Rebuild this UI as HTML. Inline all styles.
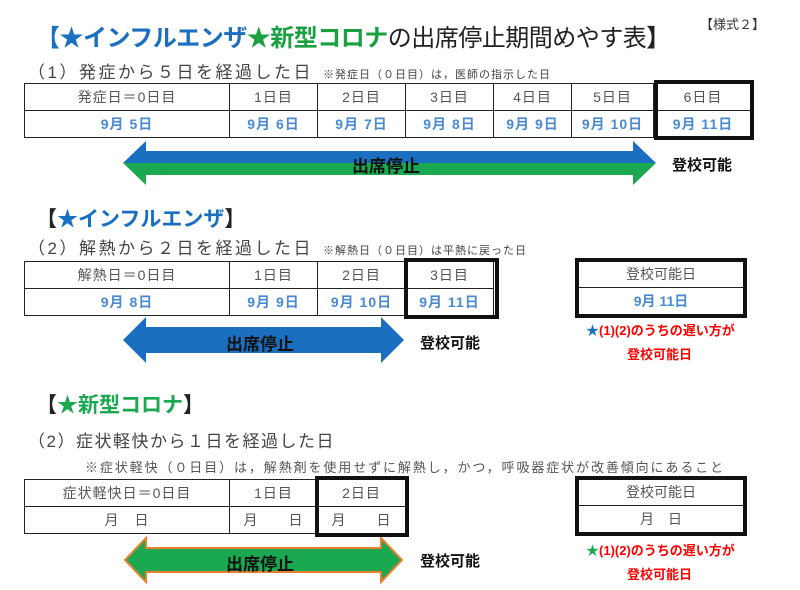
<!DOCTYPE html><html><head><meta charset="utf-8"><style>
body{margin:0;width:800px;height:590px;background:#fff;position:relative;overflow:hidden;font-family:"Liberation Sans","Noto Sans CJK JP",sans-serif;color:#333}
.a{position:absolute;white-space:nowrap}
table{position:absolute;border-collapse:collapse;table-layout:fixed}
td{border:1px solid #222;text-align:center;font-size:14px;color:#555;height:26px;padding:0;letter-spacing:1px}
td.b{color:#4a8ad0;font-weight:bold}
.box{position:absolute;border:4px solid #111;box-sizing:border-box}
.red{color:#f00;font-weight:bold;font-size:13px}
.sub{font-size:17px;color:#444;letter-spacing:2.5px}
.n{font-size:11px;letter-spacing:1px;margin-left:10px}
</style></head><body>
<div class="a" style="left:36px;top:18px;font-size:24px;font-weight:bold;color:#222;letter-spacing:-0.5px"><span style="color:#1a6fc0">【★インフルエンザ</span><span style="color:#1aa040">★新型コロナ</span><span style="font-weight:normal">の出席停止期間めやす表</span>】</div>
<div class="a" style="left:700px;top:14px;font-size:13px">【様式２】</div>
<div class="a sub" style="left:28px;top:58px">（1）発症から５日を経過した日<span class="n">※発症日（０日目）は，医師の指示した日</span></div>
<table style="left:24px;top:83px;width:729px"><colgroup><col style="width:205px"><col style="width:88px"><col style="width:88px"><col style="width:88px"><col style="width:78px"><col style="width:82px"><col></colgroup>
<tr><td>発症日＝0日目</td><td>1日目</td><td>2日目</td><td>3日目</td><td>4日目</td><td>5日目</td><td>6日目</td></tr>
<tr><td class="b">9月 5日</td><td class="b">9月 6日</td><td class="b">9月 7日</td><td class="b">9月 8日</td><td class="b">9月 9日</td><td class="b">9月 10日</td><td class="b">9月 11日</td></tr></table>
<div class="box" style="left:654px;top:80px;width:100px;height:60px"></div>
<svg class="a" style="left:0;top:0" width="800" height="590">
<defs><linearGradient id="g" x1="0" y1="0" x2="0" y2="1"><stop offset="0.5" stop-color="#1a6fc0"/><stop offset="0.5" stop-color="#1aa850"/></linearGradient></defs>
<polygon points="123,163 146,141 146,151 633,151 633,141 656,163 633,185 633,175 146,175 146,185" fill="url(#g)"/>
<polygon points="123,340 146,317 146,327 381,327 381,317 404,340 381,363 381,353 146,353 146,363" fill="#1a6fc0"/>
<polygon points="125,560 146,538 146,548 381,548 381,538 402,560 381,582 381,572 146,572 146,582" fill="#1aa850" stroke="#e88030" stroke-width="2"/>
</svg>
<div class="a" style="left:352px;top:152px;font-size:17px;font-weight:bold;color:#111">出席停止</div>
<div class="a" style="left:672px;top:154px;font-size:15px;font-weight:bold;color:#111">登校可能</div>
<div class="a" style="left:36px;top:203px;font-size:21px;font-weight:bold;color:#1a6fc0"><span style="color:#222">【</span>★インフルエンザ<span style="color:#222">】</span></div>
<div class="a sub" style="left:28px;top:234px">（2）解熱から２日を経過した日<span class="n">※解熱日（０日目）は平熱に戻った日</span></div>
<table style="left:24px;top:261px;width:470px"><colgroup><col style="width:205px"><col style="width:88px"><col style="width:88px"><col></colgroup>
<tr><td>解熱日＝0日目</td><td>1日目</td><td>2日目</td><td>3日目</td></tr>
<tr><td class="b">9月 8日</td><td class="b">9月 9日</td><td class="b">9月 10日</td><td class="b">9月 11日</td></tr></table>
<div class="box" style="left:404px;top:258px;width:95px;height:61px"></div>
<div class="box" style="left:575px;top:258px;width:172px;height:60px;display:flex;flex-direction:column"><div style="flex:1;border-bottom:1px solid #222;text-align:center;font-size:14px;color:#555;line-height:24px">登校可能日</div><div style="flex:1;text-align:center;font-size:14px;color:#4a8ad0;font-weight:bold;line-height:26px">9月 11日</div></div>
<div class="a" style="left:226px;top:330px;font-size:17px;font-weight:bold;color:#111">出席停止</div>
<div class="a" style="left:420px;top:332px;font-size:15px;font-weight:bold;color:#111">登校可能</div>
<div class="a red" style="left:586px;top:320px"><span style="color:#1a6fc0">★</span>(1)(2)のうちの遅い方が</div>
<div class="a red" style="left:627px;top:344px">登校可能日</div>
<div class="a" style="left:36px;top:389px;font-size:21px;font-weight:bold;color:#1aa850"><span style="color:#222">【</span>★新型コロナ<span style="color:#222">】</span></div>
<div class="a sub" style="left:28px;top:427px;letter-spacing:1.5px">（2）症状軽快から１日を経過した日</div>
<div class="a" style="left:85px;top:457px;font-size:13px;color:#555;letter-spacing:1.9px">※症状軽快（０日目）は，解熱剤を使用せずに解熱し，かつ，呼吸器症状が改善傾向にあること</div>
<table style="left:24px;top:479px;width:382px"><colgroup><col style="width:205px"><col style="width:88px"><col></colgroup>
<tr><td>症状軽快日＝0日目</td><td>1日目</td><td>2日目</td></tr>
<tr><td>月　日</td><td>月　　日</td><td>月　　日</td></tr></table>
<div class="box" style="left:315px;top:476px;width:94px;height:61px"></div>
<div class="box" style="left:575px;top:476px;width:172px;height:60px;display:flex;flex-direction:column"><div style="flex:1;border-bottom:1px solid #222;text-align:center;font-size:14px;color:#555;line-height:24px">登校可能日</div><div style="flex:1;text-align:center;font-size:14px;color:#555;line-height:26px">月　日</div></div>
<div class="a" style="left:226px;top:550px;font-size:17px;font-weight:bold;color:#111">出席停止</div>
<div class="a" style="left:420px;top:550px;font-size:15px;font-weight:bold;color:#111">登校可能</div>
<div class="a red" style="left:586px;top:540px"><span style="color:#1aa850">★</span>(1)(2)のうちの遅い方が</div>
<div class="a red" style="left:627px;top:564px">登校可能日</div>
</body></html>
